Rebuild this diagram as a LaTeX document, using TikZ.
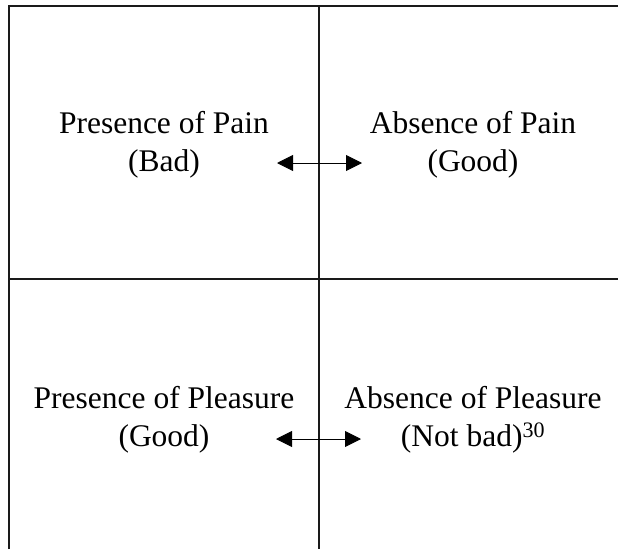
\documentclass[tikz,border=0pt]{standalone}
\usepackage{fontspec}
\setmainfont{Liberation Serif}
\usetikzlibrary{arrows.meta}
\definecolor{ink}{HTML}{000000}
\definecolor{rule}{HTML}{1A1A1A}
\tikzset{
  every node/.style={text=ink},
  quad/.style={align=center, inner sep=0pt, font=\fontsize{31.5}{38}\selectfont},
  grid/.style={draw=rule, line width=1.2pt},
  arr/.style={{Triangle[length=16pt,width=16pt]}-{Triangle[length=16pt,width=16pt]}, draw=ink, line width=0.9pt},
}

\begin{document}
\begin{tikzpicture}[x=1pt, y=-1pt]
  \def\xl{9}   % left edge
  \def\xm{319} % middle rule
  \def\yt{6}   % top edge
  \def\ym{279} % middle rule
  \useasboundingbox (0,0) rectangle (618,549);

  % grid (right and bottom edges fall outside the page)
  \draw[grid] (\xl,549) -- (\xl,\yt) -- (618,\yt);
  \draw[grid] (\xm,\yt) -- (\xm,549);
  \draw[grid] (\xl,\ym) -- (618,\ym);

  % the four cells
  \node[quad] (painpres) at (164,145) {Presence of Pain\\(Bad)};
  \node[quad] (painabs)  at (473,145) {Absence of Pain\\(Good)};
  \node[quad] (plspres)  at (164,419.5) {Presence of Pleasure\\(Good)};
  \node[quad] (plsabs)   at (473,419.5) {Absence of Pleasure\\(Not bad)\textsuperscript{30}};

  % two-way arrows across the middle rule
  \coordinate (painl) at (277,163);
  \coordinate (painr) at (362,163);
  \coordinate (plsl)  at (276,439);
  \coordinate (plsr)  at (361,439);
  \draw[arr] (painl) -- (painr);
  \draw[arr] (plsl) -- (plsr);
\end{tikzpicture}
\end{document}
